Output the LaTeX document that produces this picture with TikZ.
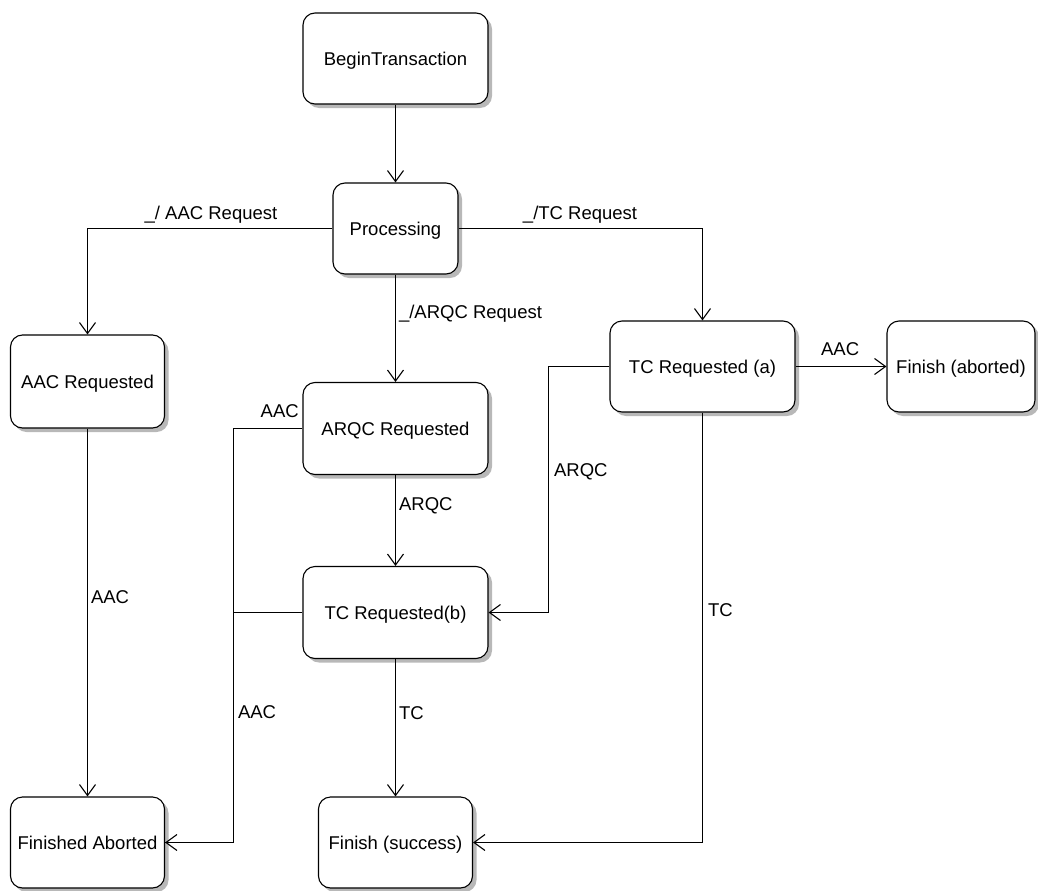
\documentclass[tikz,border=0pt]{standalone}
\usepackage{fontspec}
\setmainfont{Liberation Sans}
\usetikzlibrary{arrows.meta,shadows}

\tikzset{
  state/.style={draw, fill=white, line width=1.1bp, rounded corners=12bp,
    align=center, inner sep=0pt, text depth=0pt,
    drop shadow={shadow xshift=4bp, shadow yshift=-4bp, fill=black!28, opacity=1}},
  trans/.style={line width=1.1bp,
    -{Straight Barb[length=11bp,width=16bp,line width=1.1bp]}},
  plain/.style={line width=1.1bp},
  lbl/.style={inner sep=0pt, font=\fontsize{18.5bp}{21bp}\selectfont},
}

\begin{document}
\begin{tikzpicture}[x=1bp, y=-1bp, font=\fontsize{18.5bp}{21bp}\selectfont]
\useasboundingbox (0,0) rectangle (1038,891);

% states
\node[state, minimum width=185bp, minimum height=91bp] (bt)   at (395.5,58.5)  {BeginTransaction};
\node[state, minimum width=125bp, minimum height=91bp] (proc) at (395.5,228.5) {Processing};
\node[state, minimum width=154bp, minimum height=93bp] (aacr) at (87.5,381.5)  {AAC Requested};
\node[state, minimum width=185bp, minimum height=92bp] (arqc) at (395.5,428.5) {ARQC Requested};
\node[state, minimum width=185bp, minimum height=91bp] (tca)  at (702.5,366.5) {TC Requested (a)};
\node[state, minimum width=148bp, minimum height=91bp] (fab)  at (961,366.5)   {Finish (aborted)};
\node[state, minimum width=185bp, minimum height=92bp] (tcb)  at (395.5,612.5) {TC Requested(b)};
\node[state, minimum width=154bp, minimum height=91bp] (fa)   at (87.5,842.5)  {Finished Aborted};
\node[state, minimum width=154bp, minimum height=91bp] (fs)   at (395.5,842.5) {Finish (success)};

% vertical collector lines
\coordinate (busL) at (233.5,0);
\coordinate (busR) at (548.5,0);

% transitions
\draw[trans] (bt.south) -- (proc.north);

\draw[trans] (proc.west) -| node[lbl, pos=0.248, above=5bp] {\_/ AAC Request} (aacr.north);
\draw[trans] (proc.east) -| node[lbl, pos=0.249, above=5bp] {\_/TC Request} (tca.north);
\draw[trans] (proc.south) -- node[lbl, pos=0.36, right=3bp] {\_/ARQC Request} (arqc.north);

\draw[trans] (aacr.south) -- node[lbl, pos=0.458, right=3bp] {AAC} (fa.north);
\draw[trans] (arqc.south) -- node[lbl, pos=0.333, right=3bp] {ARQC} (tcb.north);

\draw[trans] (arqc.west) -- node[lbl, pos=0.33, above=10bp] {AAC} (arqc.west -| busL) |- (fa.east);
\draw[plain] (tcb.west) -- (tcb.west -| busL) |- node[lbl, pos=0.216, right=4bp] {AAC} (fa.east);

\draw[trans] (tca.west) -- (tca.west -| busR) |- node[lbl, pos=0.214, right=5bp] {ARQC} (tcb.east);
\draw[trans] (tca.east) -- node[lbl, pos=0.49, above=10bp] {AAC} (fab.west);
\draw[trans] (tca.south) |- node[lbl, pos=0.23, right=5bp] {TC} (fs.east);
\draw[trans] (tcb.south) -- node[lbl, pos=0.39, right=3bp] {TC} (fs.north);
\end{tikzpicture}
\end{document}
